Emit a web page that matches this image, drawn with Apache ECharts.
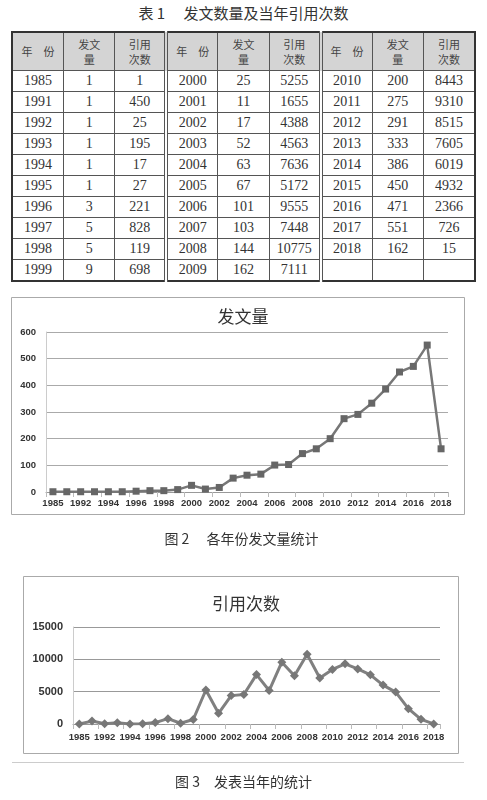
<!DOCTYPE html>
<html>
<head>
<meta charset="utf-8">
<script src="https://cdn.jsdelivr.net/npm/echarts@6/dist/echarts.min.js"></script>
<style>
  body { margin: 0; background: #fff; }
  .page { position: relative; width: 487px; height: 800px; overflow: hidden; }
  .caption {
    position: absolute; left: 0; width: 487px; text-align: center;
    font-family: "Noto Sans CJK SC", serif; color: #333; white-space: pre;
  }
  #tbl {
    position: absolute; left: 11px; top: 31px; width: 465px;
    border-collapse: collapse; table-layout: fixed;
    border: 2px solid #333;
    font-family: "Liberation Serif", "DejaVu Serif", serif; color: #333;
  }
  #tbl td, #tbl th {
    border: 1px solid #555; text-align: center; padding: 0;
    font-size: 14px; height: 20px;
  }
  #tbl th {
    background: #d4d4d4; font-weight: normal; height: 37px;
    font-family: "Noto Sans CJK SC", serif; font-size: 11px; line-height: 15px; color: #444;
  }
  #tbl .grp { border-left: 4px double #555; }
  #chart { position: absolute; left: 0; top: 0; width: 487px; height: 800px; }
</style>
</head>
<body>
<div class="page">
  <div class="caption" style="top:2px;font-size:15px;">表 1　 发文数量及当年引用次数</div>
  <table id="tbl"></table>
  <div id="chart"></div>
  <div class="caption" style="top:528px;font-size:14px;left:-2px;">图 2　 各年份发文量统计</div>
  <div class="caption" style="top:771px;font-size:14px;">图 3　发表当年的统计</div>
</div>
<script>
// 年份、发文量、引用次数
const years = ['1985', '1991', '1992', '1993', '1994', '1995', '1996', '1997', '1998', '1999',
  '2000', '2001', '2002', '2003', '2004', '2005', '2006', '2007', '2008', '2009',
  '2010', '2011', '2012', '2013', '2014', '2015', '2016', '2017', '2018']
const papers = [1, 1, 1, 1, 1, 1, 3, 5, 5, 9,
  25, 11, 17, 52, 63, 67, 101, 103, 144, 162,
  200, 275, 291, 333, 386, 450, 471, 551, 162]
const citations = [1, 450, 25, 195, 17, 27, 221, 828, 119, 698,
  5255, 1655, 4388, 4563, 7636, 5172, 9555, 7448, 10775, 7111,
  8443, 9310, 8515, 7605, 6019, 4932, 2366, 726, 15]

// 表格：三组，每组10行
const groups = [0, 10, 20]
let html = '<tr>'
groups.forEach((g, gi) => {
  const cls = gi > 0 ? ' class="grp"' : ''
  html += '<th' + cls + '>年　份</th><th>发文<br>量</th><th>引用<br>次数</th>'
})
html += '</tr>'
for (let r = 0; r < 10; r++) {
  html += '<tr>'
  groups.forEach((g, gi) => {
    const i = g + r
    const cls = gi > 0 ? ' class="grp"' : ''
    if (i < years.length) {
      html += '<td' + cls + '>' + years[i] + '</td><td>' + papers[i] + '</td><td>' + citations[i] + '</td>'
    } else {
      html += '<td' + cls + '></td><td></td><td></td>'
    }
  })
  html += '</tr>'
}
document.getElementById('tbl').innerHTML = html

const chart = echarts.init(document.getElementById('chart'))
const labelFont = { fontFamily: 'Liberation Sans', fontWeight: 'bold', color: '#333' }
const plain = v => String(v)

chart.setOption({
  animation: false,
  graphic: [
    { type: 'rect', shape: { x: 11.5, y: 297.5, width: 453, height: 217 },
      style: { fill: 'none', stroke: '#aaa', lineWidth: 1 } },
    { type: 'rect', shape: { x: 23.5, y: 576.5, width: 435, height: 177 },
      style: { fill: 'none', stroke: '#aaa', lineWidth: 1 } },
    { type: 'line', shape: { x1: 12, y1: 762.5, x2: 464, y2: 762.5 },
      style: { stroke: '#ccc', lineWidth: 1 } }
  ],
  title: [
    { text: '发文量', left: 238, top: 303, textAlign: 'center',
      textStyle: { fontFamily: 'Noto Sans CJK SC', fontWeight: 'normal', fontSize: 17, color: '#333' } },
    { text: '引用次数', left: 241, top: 590, textAlign: 'center',
      textStyle: { fontFamily: 'Noto Sans CJK SC', fontWeight: 'normal', fontSize: 17, color: '#333' } }
  ],
  grid: [
    { left: 46, right: 39, top: 332, height: 160 },
    { left: 73, right: 47, top: 627, height: 97 }
  ],
  xAxis: [
    { type: 'category', gridIndex: 0, data: years,
      axisLine: { lineStyle: { color: '#999' } },
      axisTick: { show: true, lineStyle: { color: '#bbb' } },
      axisLabel: Object.assign({ interval: 1, fontSize: 9.5, margin: 6 }, labelFont) },
    { type: 'category', gridIndex: 1, data: years,
      axisLine: { lineStyle: { color: '#999' } },
      axisTick: { show: true, lineStyle: { color: '#bbb' } },
      axisLabel: Object.assign({ interval: 1, fontSize: 9.5, margin: 8 }, labelFont) }
  ],
  yAxis: [
    { type: 'value', gridIndex: 0, min: 0, max: 600, interval: 100,
      axisLine: { show: true, lineStyle: { color: '#ccc' } },
      axisTick: { show: false },
      splitLine: { lineStyle: { color: '#aaa' } },
      axisLabel: Object.assign({ fontSize: 9.5, margin: 10, formatter: plain }, labelFont) },
    { type: 'value', gridIndex: 1, min: 0, max: 15000, interval: 5000,
      axisLine: { show: true, lineStyle: { color: '#ccc' } },
      axisTick: { show: false },
      splitLine: { lineStyle: { color: '#999' } },
      axisLabel: Object.assign({ fontSize: 11, margin: 10, formatter: plain }, labelFont) }
  ],
  series: [
    { type: 'line', xAxisIndex: 0, yAxisIndex: 0, data: papers,
      symbol: 'rect', symbolSize: 7, showAllSymbol: true,
      itemStyle: { color: '#666' },
      lineStyle: { color: '#777', width: 2.5 } },
    { type: 'line', xAxisIndex: 1, yAxisIndex: 1, data: citations,
      symbol: 'diamond', symbolSize: 9, showAllSymbol: true,
      itemStyle: { color: '#777' },
      lineStyle: { color: '#808080', width: 3 } }
  ]
})
</script>
</body>
</html>
